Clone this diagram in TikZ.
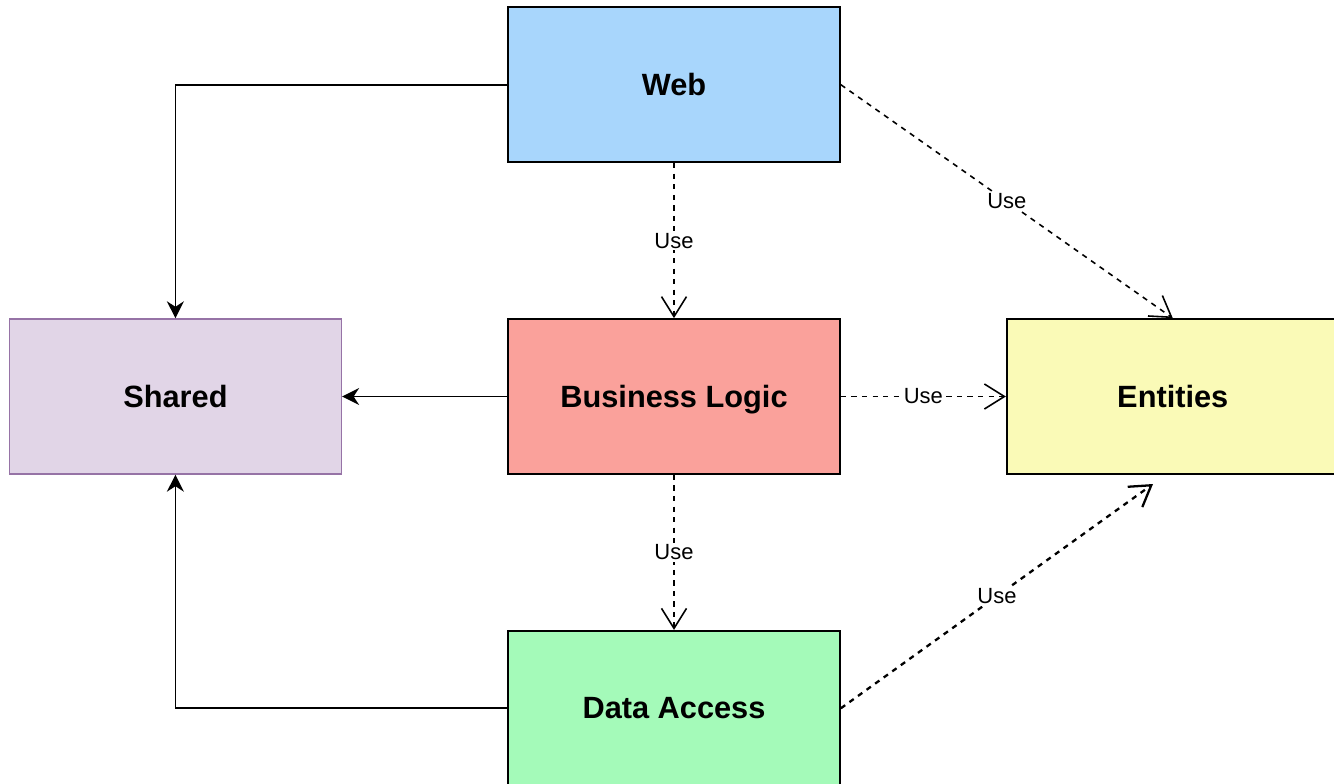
\documentclass[tikz,border=0pt]{standalone}
\usepackage{fontspec}
\setmainfont{Liberation Sans}
\usetikzlibrary{arrows.meta, positioning}
\definecolor{webblue}{RGB}{168,214,252}
\definecolor{logicred}{RGB}{250,161,155}
\definecolor{sharedpurple}{RGB}{225,213,231}
\definecolor{sharedborder}{RGB}{150,115,166}
\definecolor{entyellow}{RGB}{250,250,183}
\definecolor{datagreen}{RGB}{164,250,185}

\begin{document}
\begin{tikzpicture}[
    node distance=3.1cm and 3.3cm,
    box/.style={rectangle, draw=black, line width=1pt, text depth=0pt,
        minimum width=6.64cm, minimum height=3.1cm, font=\fontsize{17.5pt}{21pt}\selectfont\bfseries},
    arrow/.style={line width=1pt, -{Stealth[length=3.4mm, width=3.4mm]}},
    usearrow/.style={line width=0.9pt, dashed, -{Straight Barb[length=4mm, width=5mm]}},
    uselabel/.style={fill=white, inner sep=1pt, font=\fontsize{12.5pt}{15pt}\selectfont}
]
    % Canvas
    \useasboundingbox (0,0) rectangle (26.68,-15.68);
    \clip (0,0) rectangle (26.68,-15.68);

    % Middle row
    \node[box, fill=logicred] (logic) at (13.48,-7.93) {Business Logic};
    \node[box, fill=sharedpurple, draw=sharedborder, line width=0.8pt, left=of logic] (shared) {Shared};
    \node[box, fill=entyellow, right=of logic] (entities) {Entities};

    % Top and bottom
    \node[box, fill=webblue, above=of logic] (web) {Web};
    \node[box, fill=datagreen, below=of logic] (data) {Data Access};
    \coordinate (datatip) at (23.06,-9.68);

    % Solid arrows
    \draw[arrow] (web.west) -| (shared.north);
    \draw[arrow] (logic) -- (shared);
    \draw[arrow] (data.west) -| (shared.south);

    % Use arrows
    \draw[usearrow] (web) -- node[uselabel] {Use} (logic);
    \draw[usearrow] (logic) -- node[uselabel] {Use} (data);
    \draw[usearrow] (logic) -- node[uselabel] {Use} (entities);
    \draw[usearrow] (web.east) -- node[uselabel] {Use} (entities.north);
    \draw[usearrow, line width=1.3pt] (data.east) -- node[uselabel] {Use} (datatip);
\end{tikzpicture}
\end{document}
